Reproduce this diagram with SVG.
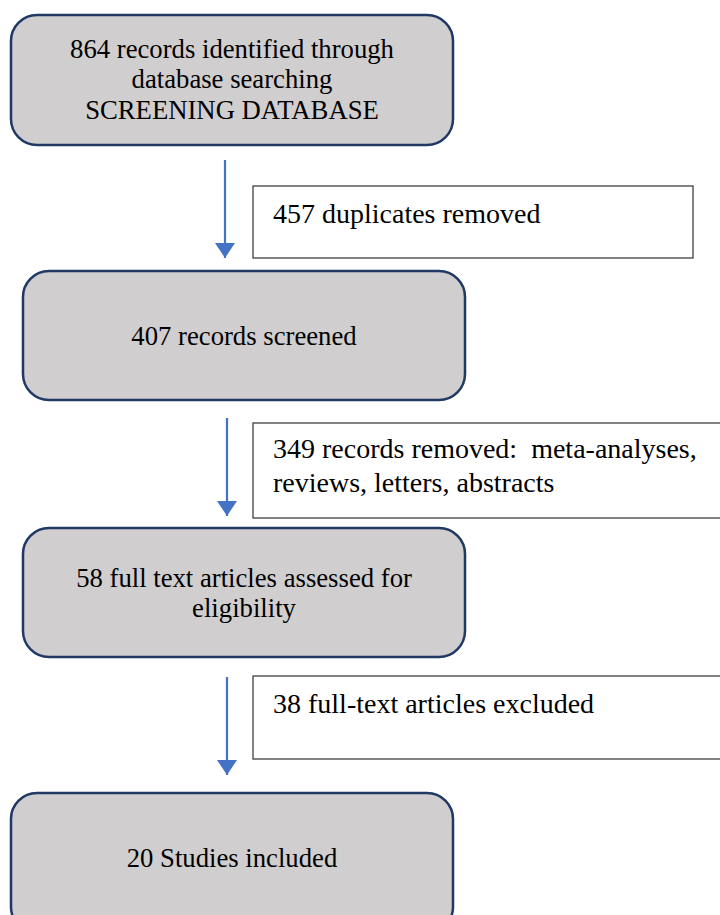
<svg xmlns="http://www.w3.org/2000/svg" width="720" height="915" viewBox="0 0 720 915">
<defs>
<style>
.node{fill:#D0CECE;stroke:#203864;stroke-width:2.5}
.side{fill:#FFFFFF;stroke:#404040;stroke-width:1.3}
.t{font-family:"Liberation Serif","Times New Roman",serif;font-size:26.7px;fill:#000;white-space:pre}
.s{font-size:28px}
.c{text-anchor:middle}
.conn{stroke:#4472C4;stroke-width:2.2;fill:none}
</style>
<marker id="ah" markerUnits="userSpaceOnUse" markerWidth="16" markerHeight="20" refX="15" refY="10" orient="auto" viewBox="0 0 16 20">
<path d="M0,0 L15,10 L0,20 Z" fill="#4472C4"/>
</marker>
</defs>
<rect width="720" height="915" fill="#FFFFFF"/>
<g id="connectors">
<line class="conn" x1="225" y1="160" x2="225" y2="258" marker-end="url(#ah)"/>
<line class="conn" x1="227" y1="418" x2="227" y2="516" marker-end="url(#ah)"/>
<line class="conn" x1="227" y1="677" x2="227" y2="775" marker-end="url(#ah)"/>
</g>
<g id="n1">
<rect class="node" x="11" y="15" width="442" height="130" rx="26"/>
<text class="t c" x="232" y="58">864 records identified through</text>
<text class="t c" x="232" y="88">database searching</text>
<text class="t c" x="232" y="119">SCREENING DATABASE</text>
</g>
<g id="s1">
<rect class="side" x="253" y="186" width="440" height="72"/>
<text class="t s" x="273" y="223">457 duplicates removed</text>
</g>
<g id="n2">
<rect class="node" x="23" y="271" width="442" height="129" rx="26"/>
<text class="t c" x="244" y="345">407 records screened</text>
</g>
<g id="s2">
<rect class="side" x="253" y="423" width="480" height="95"/>
<text class="t s" x="273" y="458" xml:space="preserve">349 records removed:  meta-analyses,</text>
<text class="t s" x="273" y="492">reviews, letters, abstracts</text>
</g>
<g id="n3">
<rect class="node" x="23" y="528" width="442" height="129" rx="26"/>
<text class="t c" x="244" y="587">58 full text articles assessed for</text>
<text class="t c" x="244" y="617">eligibility</text>
</g>
<g id="s3">
<rect class="side" x="253" y="676" width="480" height="83"/>
<text class="t s" x="273" y="713">38 full-text articles excluded</text>
</g>
<g id="n4">
<rect class="node" x="11" y="793" width="442" height="140" rx="26"/>
<text class="t c" x="232" y="867">20 Studies included</text>
</g>
</svg>
